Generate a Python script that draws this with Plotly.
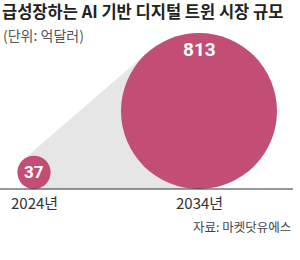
import math
import plotly.graph_objects as go

# Data
years = ["2024년", "2034년"]
values = [37, 813]
title = "급성장하는 AI 기반 디지털 트윈 시장 규모"
unit = "(단위: 억달러)"
source = "자료: 마켓닷유에스"

# Layout constants (pixel-like coordinates)
W, H = 300, 260
base_y = 189
centers_x = [34, 199]
max_r = 78
k = max_r / math.sqrt(max(values))
radii = [k * math.sqrt(v) for v in values]
centers = [(cx, base_y - r) for cx, r in zip(centers_x, radii)]

circle_color = "#C24E76"
grey = "#E6E6E6"

fig = go.Figure()

# Tangent hull between the two circles
(x1, y1), (x2, y2) = centers
r1, r2 = radii
dx, dy = x2 - x1, y2 - y1
L = math.hypot(dx, dy)
ux, uy = dx / L, dy / L
vx, vy = -uy, ux
a = (r2 - r1) / L
b = math.sqrt(1 - a * a)
tangents = []
for sgn in (1, -1):
    nx = a * ux + sgn * b * vx
    ny = a * uy + sgn * b * vy
    tangents.append(((x1 - r1 * nx, y1 - r1 * ny), (x2 - r2 * nx, y2 - r2 * ny)))
(t1a, t2a), (t1b, t2b) = tangents
hx = [t1a[0], t2a[0], t2b[0], t1b[0], t1a[0]]
hy = [t1a[1], t2a[1], t2b[1], t1b[1], t1a[1]]
fig.add_trace(go.Scatter(x=hx, y=hy, fill="toself", fillcolor=grey,
                         line=dict(width=0), mode="lines", hoverinfo="skip",
                         showlegend=False))

shapes = []
for (cx, cy), r in zip(centers, radii):
    shapes.append(dict(type="circle", xref="x", yref="y",
                       x0=cx - r, x1=cx + r, y0=cy - r, y1=cy + r,
                       fillcolor=circle_color, line=dict(width=0), layer="above"))
shapes.append(dict(type="line", xref="x", yref="y", x0=0, x1=293,
                   y0=base_y, y1=base_y, line=dict(color="#333333", width=1),
                   layer="above"))

annotations = []
# value labels
annotations.append(dict(x=centers[0][0], y=centers[0][1], text="<b>%d</b>" % values[0],
                        showarrow=False, xanchor="center", yanchor="middle",
                        font=dict(family="Roboto", size=17, color="white")))
annotations.append(dict(x=centers[1][0], y=49, text="<b>%d</b>" % values[1],
                        showarrow=False, xanchor="center", yanchor="middle",
                        font=dict(family="Roboto", size=19, color="white")))
# year labels
for cx, yl in zip(centers_x, years):
    annotations.append(dict(x=cx, y=202, text=yl, showarrow=False,
                            xanchor="center", yanchor="middle",
                            font=dict(family="Noto Sans CJK KR", size=15, color="#333333")))
annotations.append(dict(x=1, y=11, text="<b>" + title + "</b>", showarrow=False,
                        xanchor="left", yanchor="middle", borderpad=0,
                        font=dict(family="Noto Sans CJK KR", size=16.5, color="#222222")))
annotations.append(dict(x=1, y=35, text=unit, showarrow=False,
                        xanchor="left", yanchor="middle",
                        font=dict(family="Noto Sans CJK KR", size=14, color="#555555")))
annotations.append(dict(x=293, y=226, text=source, showarrow=False,
                        xanchor="right", yanchor="middle",
                        font=dict(family="Noto Sans CJK KR", size=12.5, color="#444444")))

fig.update_layout(
    width=W, height=H, margin=dict(l=0, r=0, t=0, b=0),
    paper_bgcolor="white", plot_bgcolor="white",
    xaxis=dict(range=[0, W], visible=False, fixedrange=True),
    yaxis=dict(range=[H, 0], visible=False, fixedrange=True),
    shapes=shapes, annotations=annotations, showlegend=False,
)

fig.write_html("out.html")
